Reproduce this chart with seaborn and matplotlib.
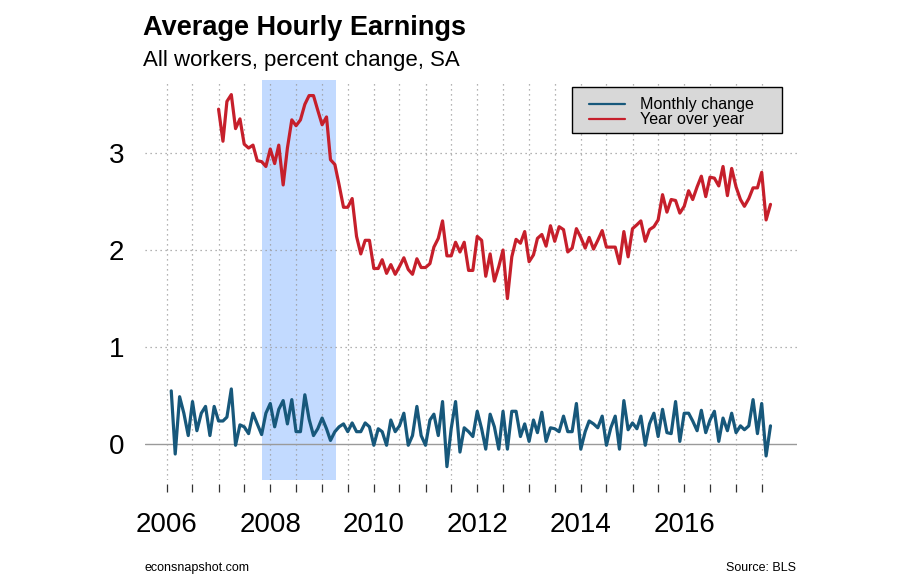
import matplotlib
matplotlib.use("Agg")
import matplotlib.pyplot as plt
from matplotlib.patches import Rectangle
import numpy as np
import pandas as pd
import seaborn as sns

# --- Data (percent change, SA) ---
# monthly change, Feb 2006 .. Sep 2017
monthly_change = [
    0.55, -0.10, 0.49, 0.32, 0.09, 0.44, 0.14, 0.32, 0.39, 0.09, 0.39, 0.24,
    0.24, 0.28, 0.57, -0.01, 0.20, 0.18, 0.11, 0.32, 0.21, 0.10, 0.32, 0.42,
    0.18, 0.36, 0.45, 0.21, 0.46, 0.13, 0.13, 0.51, 0.26, 0.09, 0.16, 0.27,
    0.16, 0.04, 0.13, 0.18, 0.21, 0.13, 0.22, 0.13, 0.13, 0.22, 0.18, -0.01,
    0.16, 0.13, -0.01, 0.25, 0.13, 0.19, 0.32, -0.01, 0.09, 0.39, 0.09, -0.01,
    0.25, 0.31, 0.09, 0.44, -0.23, 0.16, 0.44, -0.08, 0.17, 0.13, 0.08, 0.34,
    0.16, -0.05, 0.31, 0.18, -0.05, 0.34, -0.05, 0.34, 0.34, 0.08, 0.21, 0.03,
    0.25, 0.12, 0.33, 0.03, 0.17, 0.16, 0.13, 0.29, 0.13, 0.13, 0.42, -0.05,
    0.13, 0.24, 0.21, 0.17, 0.29, -0.01, 0.17, 0.29, -0.05, 0.45, 0.15, 0.22,
    0.16, 0.29, -0.01, 0.21, 0.32, 0.08, 0.36, 0.12, 0.11, 0.44, 0.03, 0.32,
    0.32, 0.24, 0.14, 0.35, 0.12, 0.25, 0.34, 0.03, 0.27, 0.14, 0.32, 0.12,
    0.19, 0.15, 0.19, 0.46, 0.11, 0.42, -0.12, 0.19,
]
# year over year change, Jan 2007 .. Sep 2017
year_over_year = [
    3.45, 3.12, 3.53, 3.60, 3.25, 3.35, 3.09, 3.05, 3.08, 2.92, 2.91, 2.86,
    3.04, 2.89, 3.08, 2.67, 3.05, 3.34, 3.28, 3.34, 3.50, 3.59, 3.59, 3.44,
    3.29, 3.37, 2.93, 2.88, 2.67, 2.44, 2.44, 2.53, 2.14, 1.96, 2.10, 2.10,
    1.81, 1.81, 1.90, 1.76, 1.85, 1.75, 1.83, 1.92, 1.80, 1.75, 1.91, 1.82,
    1.82, 1.86, 2.03, 2.12, 2.30, 1.94, 1.94, 2.08, 1.98, 2.08, 1.79, 1.79,
    2.14, 2.10, 1.73, 1.96, 1.68, 1.83, 2.00, 1.50, 1.93, 2.11, 2.07, 2.19,
    1.88, 1.95, 2.12, 2.16, 2.04, 2.25, 2.09, 2.24, 2.21, 1.98, 2.02, 2.22,
    2.13, 2.02, 2.13, 2.01, 2.10, 2.20, 2.03, 2.03, 2.03, 1.86, 2.19, 1.93,
    2.22, 2.26, 2.30, 2.09, 2.21, 2.24, 2.31, 2.57, 2.39, 2.52, 2.51, 2.38,
    2.45, 2.61, 2.52, 2.65, 2.76, 2.55, 2.75, 2.74, 2.66, 2.86, 2.56, 2.84,
    2.65, 2.52, 2.45, 2.53, 2.64, 2.64, 2.80, 2.31, 2.47,
]
monthly_dates = pd.date_range("2006-02-01", periods=len(monthly_change), freq="MS")
yoy_dates = pd.date_range("2007-01-01", periods=len(year_over_year), freq="MS")
series_names = ["Monthly change", "Year over year"]
series_colors = ["#17587b", "#c61f2b"]
recession = ("2007-11-06", "2009-04-08")
year_labels = ["2006", "2008", "2010", "2012", "2014", "2016"]

df = pd.concat([
    pd.DataFrame({"date": monthly_dates, "value": monthly_change, "series": series_names[0]}),
    pd.DataFrame({"date": yoy_dates, "value": year_over_year, "series": series_names[1]}),
])

sns.set_style("white")
plt.rcParams["font.family"] = ["Liberation Sans", "DejaVu Sans"]
plt.rcParams["text.color"] = "black"
plt.rcParams["xtick.color"] = "black"
plt.rcParams["ytick.color"] = "black"

fig = plt.figure(figsize=(9, 5.8), dpi=100)
ax = fig.add_axes([0.161, 0.172, 0.725, 0.69])

# recession shading
ax.axvspan(pd.Timestamp(recession[0]), pd.Timestamp(recession[1]),
           color="#c2daff", lw=0, zorder=0)

# grid
half_years = pd.date_range("2006-01-01", "2017-07-01", freq="6MS")
for d in half_years:
    ax.axvline(d, color="#9a9a9a", lw=0.9, ls=(0, (1, 3)), zorder=1)
for yv in [1, 2, 3]:
    ax.axhline(yv, color="#9a9a9a", lw=0.9, ls=(0, (1, 3)), zorder=1)
ax.axhline(0, color="#9a9a9a", lw=1.0, zorder=1)

sns.lineplot(data=df, x="date", y="value", hue="series", hue_order=series_names,
             palette=series_colors, lw=2.3, ax=ax, zorder=3)

ax.set_xlim(pd.Timestamp("2005-07-30"), pd.Timestamp("2018-03-10"))
ax.set_ylim(-0.37, 3.75)
ax.set_xlabel("")
ax.set_ylabel("")

ax.set_xticks(half_years)
ax.set_xticklabels([d.strftime("%Y") if d.strftime("%Y") in year_labels and d.month == 1 else ""
                    for d in half_years])
ax.set_yticks([0, 1, 2, 3])
ax.set_yticklabels(["0", "1", "2", "3"])
ax.tick_params(axis="x", direction="out", length=6, width=0.9, color="#333333",
               labelsize=20, pad=14, bottom=True)
ax.tick_params(axis="y", length=0, labelsize=20, pad=15)
for s in ax.spines.values():
    s.set_visible(False)
ax.spines["bottom"].set_position(("outward", 3))

# legend box drawn separately so the grey frame can be wider than the entries
ax.add_patch(Rectangle((0.655, 0.8675), 0.322, 0.115, transform=ax.transAxes,
                       facecolor="#d8d8d8", edgecolor="black", lw=1.0, zorder=4))
leg = ax.legend(loc="upper left", bbox_to_anchor=(0.67, 0.5, 0.307, 0.475),
                mode="expand", frameon=False, fontsize=11.6, handlelength=2.2,
                handletextpad=0.95, labelspacing=0.0, borderpad=0.45, borderaxespad=0)
leg.set_zorder(5)
for line in leg.get_lines():
    line.set_linewidth(1.6)

fig.text(0.159, 0.940, "Average Hourly Earnings", fontsize=19.5, fontweight="bold",
         va="baseline", ha="left")
fig.text(0.159, 0.886, "All workers, percent change, SA", fontsize=16,
         va="baseline", ha="left")
fig.text(0.161, 0.016, "econsnapshot.com", fontsize=9, va="baseline", ha="left")
fig.text(0.884, 0.016, "Source: BLS", fontsize=9, va="baseline", ha="right")

fig.savefig("out.png", dpi=100, facecolor="white")
